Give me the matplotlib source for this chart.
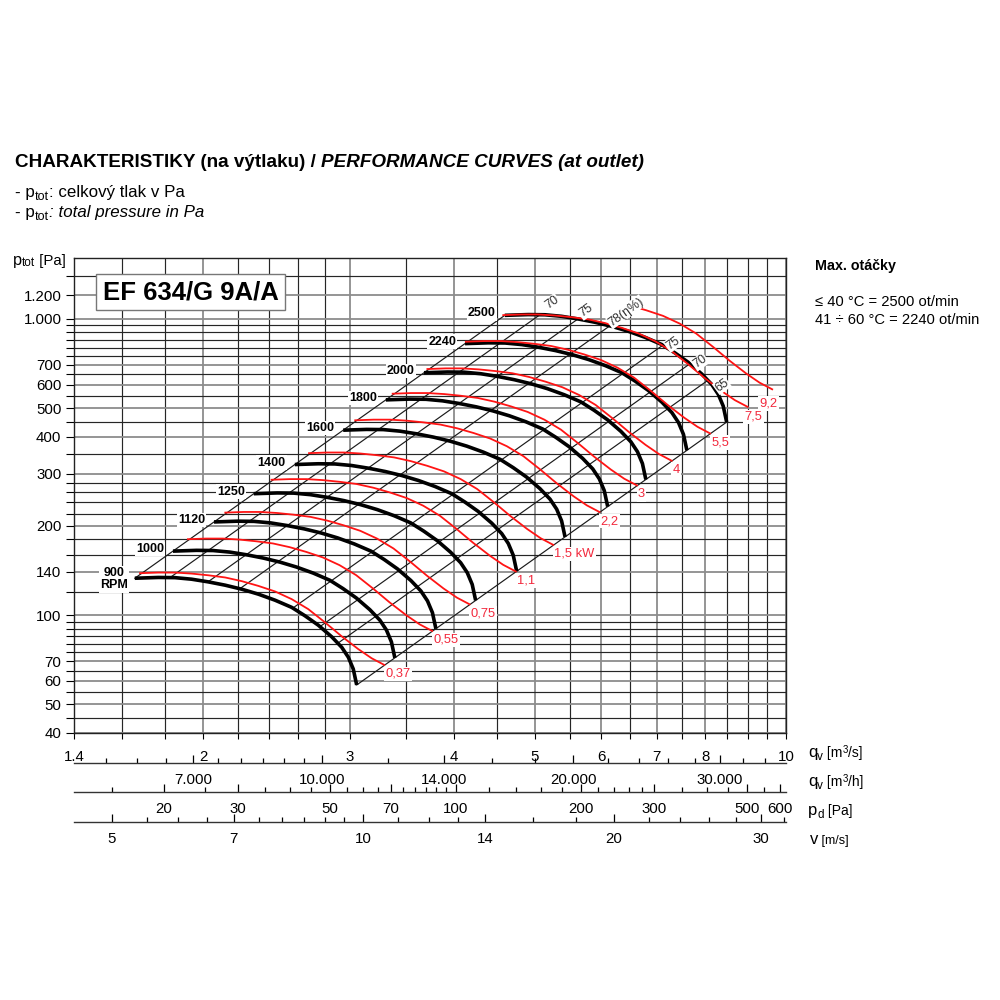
import numpy as np
import matplotlib
matplotlib.use('Agg')
import matplotlib.pyplot as plt
from matplotlib.ticker import FixedLocator, FuncFormatter, NullFormatter

plt.rcParams['font.family'] = ['Liberation Sans', 'DejaVu Sans']

# ---- values ----
rpm = [900, 1000, 1120, 1250, 1400, 1600, 1800, 2000, 2240, 2500]
# 900 RPM curve; the other speeds follow the fan laws (q ~ n, p ~ n^2)
q_900 = [1.656, 1.767, 1.850, 1.937, 2.028, 2.125, 2.225, 2.329, 2.439, 2.554,
         2.649, 2.748, 2.852, 2.932, 2.986, 3.027, 3.056]
p_900 = [133.2, 134.0, 133.8, 132.2, 129.5, 126.2, 122.3, 117.7, 112.3, 106.2,
         99.5, 92.5, 84.5, 77.9, 72.1, 65.8, 58.1]

power_kw = [0.37, 0.55, 0.75, 1.1, 1.5, 2.2, 3, 4, 5.5, 7.5, 9.2]
power_lbl = ['0,37', '0,55', '0,75', '1,1', '1,5 kW', '2,2', '3', '4', '5,5', '7,5', '9,2']
# 0.37 kW line; the other power lines are the same line moved by (P/0.37)^(1/3)
q_037 = [1.680, 1.767, 1.850, 1.937, 2.028, 2.125, 2.225, 2.329, 2.439, 2.554,
         2.673, 2.800, 2.932, 3.069, 3.185, 3.298]
p_037 = [138.5, 139.2, 139.2, 138.1, 136.3, 134.0, 130.2, 125.5, 120.2, 113.2,
         104.8, 94.5, 84.8, 76.8, 71.5, 67.9]
q_92_from = 6.65   # the 9,2 line only starts right of the 78 % label

# efficiency parabolas, where they leave the 900 RPM curve
eta_q900 = [1.825, 2.027, 2.213, 2.562, 2.761, 2.901]
eta_lbl = ['70', '75', '78(η%)', '75', '70', '65']

grid_x = [1.4, 1.6, 1.8, 2.0, 2.2, 2.4, 2.6, 2.8, 3.0, 3.5, 4.0, 4.5, 5.0, 5.5,
          6.0, 6.5, 7.0, 7.5, 8.0, 8.5, 9.0, 9.5, 10.0]
x_lbl = {1.4: '1.4', 2.0: '2', 3.0: '3', 4.0: '4', 5.0: '5', 6.0: '6', 7.0: '7',
         8.0: '8', 10.0: '10'}
grid_y = [40, 45, 50, 55, 60, 65, 70, 75, 80, 85, 90, 95, 100, 120, 140, 160, 180,
          200, 220, 240, 260, 280, 300, 350, 400, 450, 500, 550, 600, 650, 700,
          750, 800, 850, 900, 950, 1000, 1200, 1400]
y_lbl = {40: '40', 50: '50', 60: '60', 70: '70', 100: '100', 140: '140', 200: '200',
         300: '300', 400: '400', 500: '500', 600: '600', 700: '700',
         1000: '1.000', 1200: '1.200'}

m3h_major = [7000, 10000, 14000, 20000, 30000]
m3h_minor = [5500, 6000, 6500, 7500, 8000, 8500, 9000, 9500, 12000, 16000, 18000,
             22000, 24000, 26000, 28000, 32000, 34000]
pd_major = [20, 30, 50, 70, 100, 200, 300, 500, 600]
pd_minor = [15, 25, 35, 40, 45, 55, 60, 65, 75, 80, 85, 90, 95, 120, 140, 160, 180,
            220, 240, 260, 280, 350, 400, 450, 550]
v_major = [5, 7, 10, 14, 20, 30]
v_minor = [5.5, 6, 6.5, 7.5, 8, 8.5, 9, 9.5, 11, 12, 13, 16, 18, 22, 24, 26, 28, 32]
outlet_area = 0.311   # m2, puts v = 10 m/s where the chart has it
rho = 1.2

RED = '#ff1414'
RED_TXT = '#f2283c'

fig = plt.figure(figsize=(10, 10), dpi=100)
fig.patch.set_facecolor('white')
ax = fig.add_axes([0.074, 0.267, 0.712, 0.475])
ax.set_xscale('log')
ax.set_yscale('log')
ax.set_xlim(1.4, 10)
ax.set_ylim(40, 1605)

# grid
for g in grid_x:
    lab = g in x_lbl
    ax.axvline(g, color='#8c8c8c' if lab else '#262626', lw=1.3 if lab else 0.85, zorder=0)
for g in grid_y:
    lab = g in y_lbl
    ax.axhline(g, color='#8c8c8c' if lab else '#262626', lw=1.3 if lab else 0.85, zorder=0)

ax.xaxis.set_major_locator(FixedLocator(grid_x))
ax.xaxis.set_minor_locator(FixedLocator([]))
ax.xaxis.set_major_formatter(FuncFormatter(lambda v, pos: x_lbl.get(round(v, 2), '')))
ax.xaxis.set_minor_formatter(NullFormatter())
ax.yaxis.set_major_locator(FixedLocator(grid_y))
ax.yaxis.set_minor_locator(FixedLocator([]))
ax.yaxis.set_major_formatter(FuncFormatter(lambda v, pos: y_lbl.get(int(round(v)), '')))
ax.yaxis.set_minor_formatter(NullFormatter())
ax.tick_params(axis='x', direction='out', length=4, width=0.8, pad=8, labelsize=10.8)
ax.tick_params(axis='y', direction='out', length=6, width=0.8, pad=3, labelsize=10.8)
for s in ax.spines.values():
    s.set_linewidth(1.0)
    s.set_color('#222222')

k = rpm[-1] / rpm[0]
lq900 = np.log10(q_900)
lp900 = np.log10(p_900)


def on_900(q):
    return 10 ** np.interp(np.log10(q), lq900, lp900)


# efficiency parabolas p ~ q^2 plus the two boundaries
for qs in [q_900[0]] + eta_q900 + [q_900[-1]]:
    ps = on_900(qs)
    ax.plot([qs, qs * k], [ps, ps * k * k], color='#1a1a1a', lw=0.85, zorder=2)

# fan curves
qb = np.array(q_900)
pb = np.array(p_900)
for n in rpm:
    r = n / rpm[0]
    ax.plot(qb * r, pb * r * r, color='black', lw=2.6, zorder=3,
            solid_capstyle='butt')
    lbl = '900\nRPM' if n == 900 else str(n)
    if n == 900:
        ax.annotate(lbl, (qb[0], pb[0]), xytext=(-21, -1), textcoords='offset pixels',
                    ha='center', va='center', fontsize=9, fontweight='bold',
                    linespacing=1.05, zorder=6,
                    bbox=dict(boxstyle='square,pad=0.1', fc='white', ec='none'))
    else:
        ax.annotate(lbl, (qb[0] * r, pb[0] * r * r), xytext=(-9, 2),
                    textcoords='offset pixels', ha='right', va='center',
                    fontsize=9, fontweight='bold', zorder=6,
                    bbox=dict(boxstyle='square,pad=0.1', fc='white', ec='none'))

# power lines
qr = np.array(q_037)
pr = np.array(p_037)
lbl_off = {'7,5': (-3, -10), '9,2': (-13, -14)}
for P, lbl in zip(power_kw, power_lbl):
    s = (P / power_kw[0]) ** (1 / 3)
    qq = qr * s
    pp = pr * s * s
    if lbl == '9,2':
        p0 = 10 ** np.interp(np.log10(q_92_from), np.log10(qq), np.log10(pp))
        keep = qq > q_92_from
        qq = np.concatenate([[q_92_from], qq[keep]])
        pp = np.concatenate([[p0], pp[keep]])
    ax.plot(qq, pp, color=RED, lw=1.3, zorder=4)
    dx, dy = lbl_off.get(lbl, (1, -9))
    ax.annotate(lbl, (qq[-1], pp[-1]), xytext=(dx, dy), textcoords='offset pixels',
                ha='left', va='center', fontsize=9.3, color=RED_TXT, zorder=6,
                bbox=dict(boxstyle='square,pad=0.1', fc='white', ec='none'))

# efficiency labels at the 2500 RPM end of each parabola
eta_off = [(12, 12), (8, 8), (16, 14), (10, 2), (10, 2), (14, -5)]
for qs, lbl, off in zip(eta_q900, eta_lbl, eta_off):
    ps = on_900(qs)
    ax.annotate(lbl, (qs * k, ps * k * k), xytext=off, textcoords='offset pixels',
                ha='center', va='center', rotation=36, fontsize=9, color='#303030',
                zorder=6, bbox=dict(boxstyle='square,pad=0.05', fc='white', ec='none'))

# model box
fig.text(0.1905, 1 - 0.292, 'EF 634/G 9A/A', ha='center', va='center', fontsize=18.5,
         fontweight='bold',
         bbox=dict(boxstyle='square,pad=0.25', fc='white', ec='#777777', lw=1.0))

# extra flow axes below
A = outlet_area


def sec_axis(loc, fwd, inv, major, minor, fmt):
    sec = ax.secondary_xaxis(loc, functions=(fwd, inv))
    sec.xaxis.set_major_locator(FixedLocator(major))
    sec.xaxis.set_minor_locator(FixedLocator(minor))
    sec.xaxis.set_major_formatter(FuncFormatter(lambda v, pos: fmt(v)))
    sec.xaxis.set_minor_formatter(NullFormatter())
    sec.tick_params(which='major', direction='in', length=6, width=0.9, pad=7,
                    labelsize=10.8)
    sec.tick_params(which='minor', direction='in', length=3.5, width=0.9)
    sec.spines['bottom'].set_linewidth(1.0)
    sec.spines['bottom'].set_color('#333333')
    return sec


sec_axis(-30 / 475, lambda q: q * 3600, lambda h: h / 3600, m3h_major, m3h_minor,
         lambda v: '{:,.0f}'.format(v).replace(',', '.'))
sec_axis(-59 / 475, lambda q: 0.5 * rho * (q / A) ** 2,
         lambda pd: A * np.sqrt(np.maximum(pd, 1e-12) / (0.5 * rho)),
         pd_major, pd_minor, lambda v: '%d' % round(v))
sec_axis(-89 / 475, lambda q: q / A, lambda v: v * A, v_major, v_minor,
         lambda v: '%g' % v)

renderer = fig.canvas.get_renderer()


def runs(x, y, parts):
    # parts: (text, size, weight, style, dy) put one after another on a baseline
    for txt, size, weight, style, dy in parts:
        t = fig.text(x / 1000, 1 - (y + dy) / 1000, txt, fontsize=size,
                     fontweight=weight, fontstyle=style, ha='left', va='baseline')
        x = t.get_window_extent(renderer=renderer).x1


runs(15, 167, [('CHARAKTERISTIKY (na výtlaku) / ', 13.6, 'bold', 'normal', 0),
               ('PERFORMANCE CURVES (at outlet)', 13.6, 'bold', 'italic', 0)])
runs(15, 197, [('- p', 12.2, 'normal', 'normal', 0), ('tot', 9, 'normal', 'normal', 3),
               (': celkový tlak v Pa', 12.2, 'normal', 'normal', 0)])
runs(15, 217, [('- p', 12.2, 'normal', 'normal', 0), ('tot', 9, 'normal', 'normal', 3),
               (': total pressure in Pa', 12.2, 'normal', 'italic', 0)])
runs(13, 265, [('p', 11.8, 'normal', 'normal', 0), ('tot', 8.5, 'normal', 'normal', 1),
               (' [Pa]', 10.8, 'normal', 'normal', 0)])

runs(815, 270, [('Max. otáčky', 10.3, 'bold', 'normal', 0)])
runs(815, 306, [('≤ 40 °C = 2500 ot/min', 10.6, 'normal', 'normal', 0)])
runs(815, 324, [('41 ÷ 60 °C = 2240 ot/min', 10.6, 'normal', 'normal', 0)])

runs(808, 757, [('q', 12, 'normal', 'normal', 0), ('v', 8.5, 'normal', 'normal', 3),
                (' [m', 10, 'normal', 'normal', 0), ('3', 7, 'normal', 'normal', -4),
                ('/s]', 10, 'normal', 'normal', 0)])
runs(808, 786, [('q', 12, 'normal', 'normal', 0), ('v', 8.5, 'normal', 'normal', 3),
                (' [m', 10, 'normal', 'normal', 0), ('3', 7, 'normal', 'normal', -4),
                ('/h]', 10, 'normal', 'normal', 0)])
runs(808, 815, [('p', 12, 'normal', 'normal', 0), ('d', 8.5, 'normal', 'normal', 3),
                (' [Pa]', 10, 'normal', 'normal', 0)])
runs(810, 844, [('v', 12, 'normal', 'normal', 0), (' [m/s]', 9, 'normal', 'normal', 0)])

fig.savefig('out.png', dpi=100, facecolor='white')
